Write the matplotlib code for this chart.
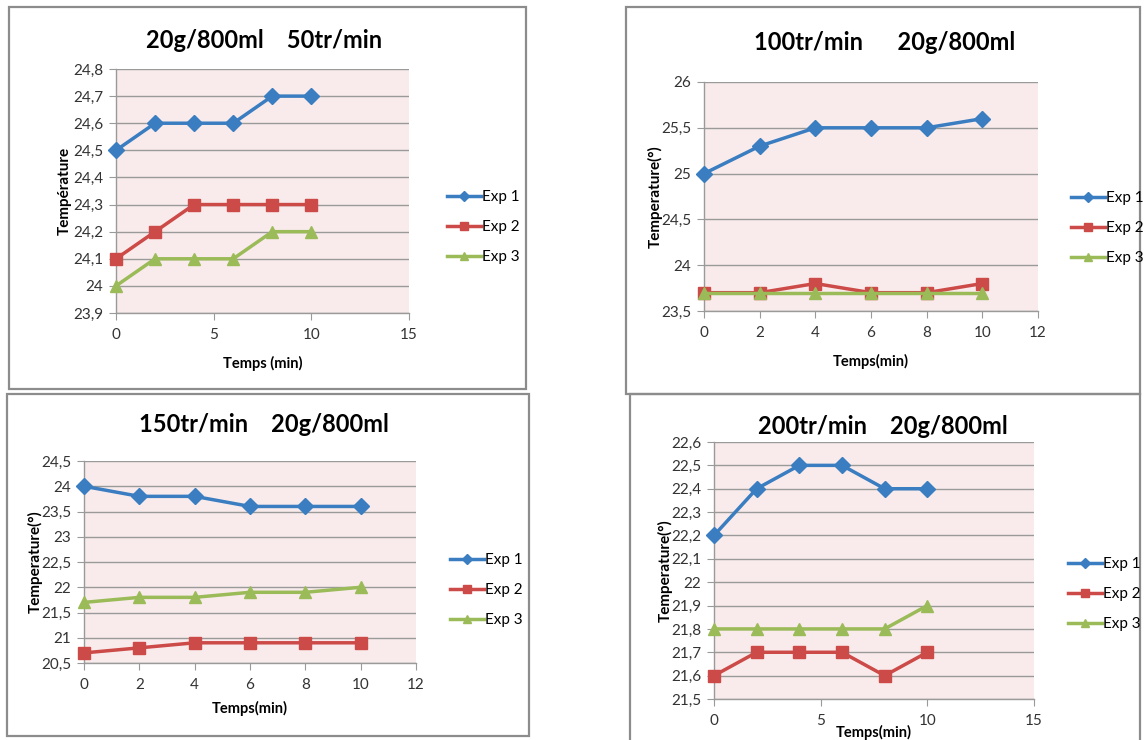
import matplotlib
matplotlib.use('Agg')
import matplotlib.pyplot as plt
from matplotlib.patches import Rectangle
from matplotlib.ticker import FuncFormatter, MultipleLocator

plt.rcParams['font.family'] = ['Lato', 'DejaVu Sans']

# temps de mesure (min)
temps = [0, 2, 4, 6, 8, 10]

# 50 tr/min
exp1_50 = [24.5, 24.6, 24.6, 24.6, 24.7, 24.7]
exp2_50 = [24.1, 24.2, 24.3, 24.3, 24.3, 24.3]
exp3_50 = [24.0, 24.1, 24.1, 24.1, 24.2, 24.2]

# 100 tr/min
exp1_100 = [25.0, 25.3, 25.5, 25.5, 25.5, 25.6]
exp2_100 = [23.7, 23.7, 23.8, 23.7, 23.7, 23.8]
exp3_100 = [23.7, 23.7, 23.7, 23.7, 23.7, 23.7]

# 150 tr/min
exp1_150 = [24.0, 23.8, 23.8, 23.6, 23.6, 23.6]
exp2_150 = [20.7, 20.8, 20.9, 20.9, 20.9, 20.9]
exp3_150 = [21.7, 21.8, 21.8, 21.9, 21.9, 22.0]

# 200 tr/min
exp1_200 = [22.2, 22.4, 22.5, 22.5, 22.4, 22.4]
exp2_200 = [21.6, 21.7, 21.7, 21.7, 21.6, 21.7]
exp3_200 = [21.8, 21.8, 21.8, 21.8, 21.8, 21.9]

noms = ['Exp 1', 'Exp 2', 'Exp 3']
couleurs = ['#3A7DC0', '#CC4A47', '#9BBB59']
marqueurs = ['D', 's', '^']
tailles = [8, 9, 9]

W, H = 1144, 740
fig = plt.figure(figsize=(W / 100, H / 100), dpi=100)


def px_box(x0, y0, x1, y1):
    # pixel box (top-left origin) -> figure fraction [left, bottom, width, height]
    return [x0 / W, 1 - y1 / H, (x1 - x0) / W, (y1 - y0) / H]


def cadre(x0, y0, x1, y1):
    l, b, w, h = px_box(x0, y0, x1, y1)
    fig.add_artist(Rectangle((l, b), w, h, transform=fig.transFigure,
                             fill=False, edgecolor='#8C8C8C', linewidth=1.6))


virgule = FuncFormatter(lambda v, p: f'{v:g}'.replace('.', ','))


def graphe(box, series, titre, ylabel, xlabel, xlim, xstep, ylim, ystep,
           titre_xy, ylab_x, xlab_y, leg_xy):
    ax = fig.add_axes(px_box(*box))
    ax.set_facecolor('#F9EBEB')
    for vals, nom, c, m, s in zip(series, noms, couleurs, marqueurs, tailles):
        ax.plot(temps, vals, color=c, marker=m, markersize=s, linewidth=2.5,
                label=nom, clip_on=False, zorder=3)
    ax.set_xlim(*xlim)
    ax.set_ylim(*ylim)
    ax.xaxis.set_major_locator(MultipleLocator(xstep))
    ax.yaxis.set_major_locator(MultipleLocator(ystep))
    ax.yaxis.set_major_formatter(virgule)
    ax.grid(axis='y', color='#9A9A9A', linewidth=1.0)
    ax.set_axisbelow(True)
    for side in ['top', 'right']:
        ax.spines[side].set_visible(False)
    for side in ['left', 'bottom']:
        ax.spines[side].set_color('#9A9A9A')
        ax.spines[side].set_linewidth(1.0)
    ax.tick_params(axis='both', direction='out', length=5, color='#9A9A9A',
                   labelsize=11, labelcolor='#333333', pad=4)
    ax.tick_params(axis='x', pad=6)

    fig.text(titre_xy[0] / W, 1 - titre_xy[1] / H, titre, fontsize=17,
             fontweight='bold', ha='center', va='center')
    fig.text(ylab_x / W, 1 - (box[1] + box[3]) / 2 / H, ylabel, fontsize=11,
             fontweight='bold', rotation=90, ha='center', va='center')
    fig.text((box[0] + box[2]) / 2 / W, 1 - xlab_y / H, xlabel, fontsize=10.5,
             fontweight='bold', ha='center', va='center')
    fig.legend(*ax.get_legend_handles_labels(), loc='center left',
               bbox_to_anchor=(leg_xy[0] / W, 1 - leg_xy[1] / H),
               frameon=False, fontsize=11, handlelength=2.2, handletextpad=0.1,
               labelspacing=1.05, markerscale=0.7, borderaxespad=0)
    return ax


cadre(9, 7, 526, 389)
cadre(626, 7, 1140, 394)
cadre(7, 394, 529, 736)
cadre(630, 394, 1140, 760)

graphe((116, 69, 409, 313), [exp1_50, exp2_50, exp3_50],
       '20g/800ml    50tr/min', 'Température', 'Temps (min)',
       (0, 15), 5, (23.9, 24.8), 0.1,
       (264, 40), 65, 363, (441, 227))

graphe((704, 82, 1038, 311), [exp1_100, exp2_100, exp3_100],
       '100tr/min      20g/800ml', 'Temperature(°)', 'Temps(min)',
       (0, 12), 2, (23.5, 26), 0.5,
       (885, 42), 655, 361, (1065, 228))

graphe((84, 461, 416, 663), [exp1_150, exp2_150, exp3_150],
       '150tr/min    20g/800ml', 'Temperature(°)', 'Temps(min)',
       (0, 12), 2, (20.5, 24.5), 0.5,
       (264, 425), 35, 708, (444, 590))

graphe((714, 442, 1034, 699), [exp1_200, exp2_200, exp3_200],
       '200tr/min    20g/800ml', 'Temperature(°)', 'Temps(min)',
       (0, 15), 5, (21.5, 22.6), 0.1,
       (883, 427), 665, 732, (1062, 594))

fig.savefig('out.png', dpi=100)
